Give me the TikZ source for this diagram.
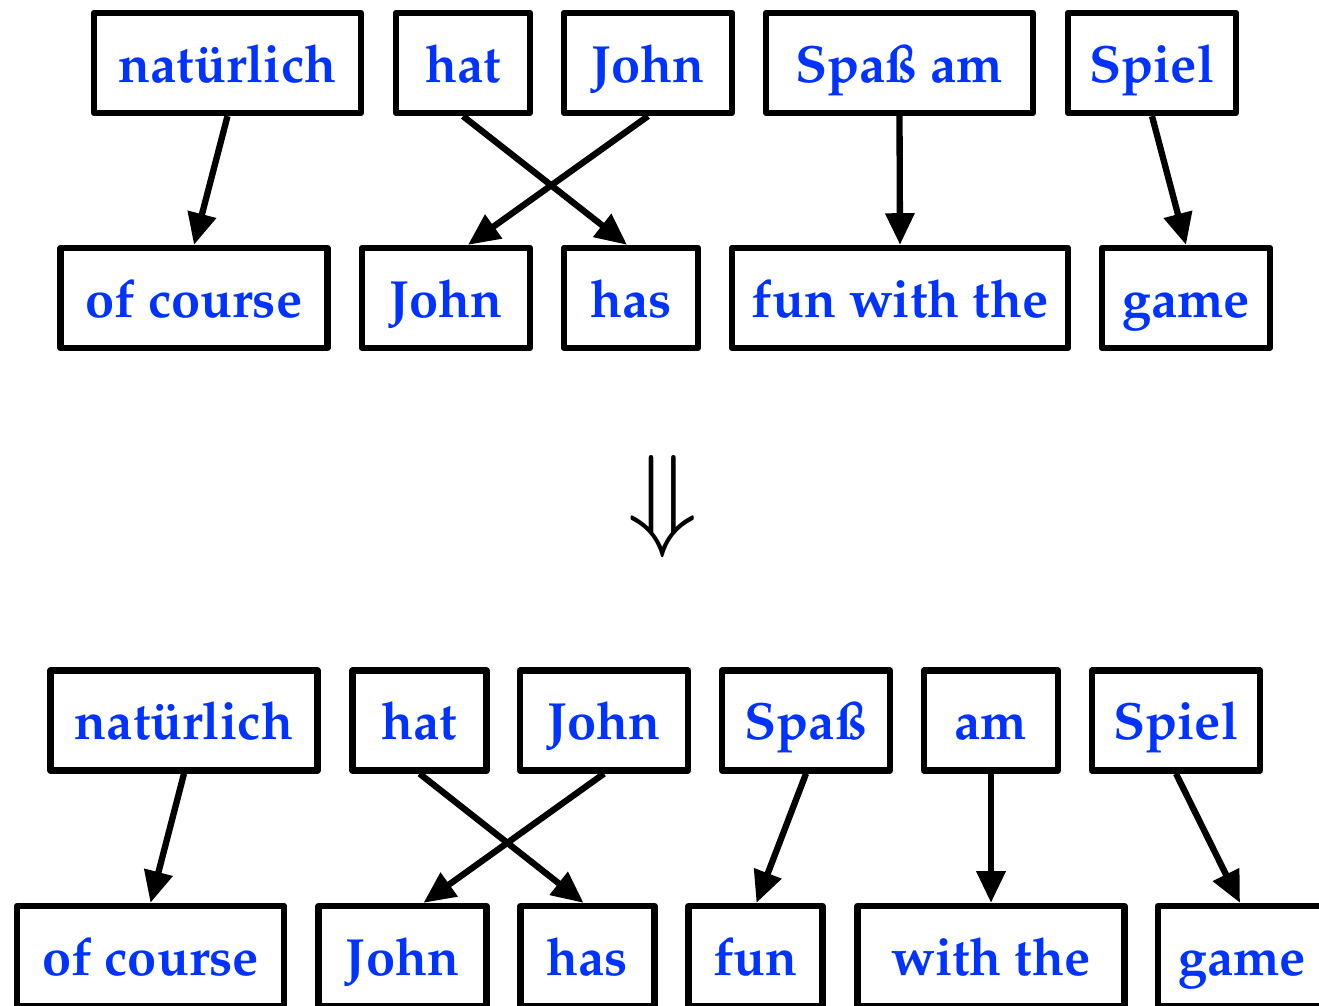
\documentclass[tikz,border=0pt]{standalone}
\usepackage[T1]{fontenc}
\usepackage{mathpazo}
\usetikzlibrary{arrows.meta}
\definecolor{wordblue}{RGB}{0,51,255}
\tikzset{
  word/.style={draw, line width=3.6pt, line join=round, minimum height=2cm,
    text height=22pt, text depth=0pt, inner sep=0pt, text=wordblue,
    font=\fontsize{29.8}{36}\selectfont\bfseries},
  link/.style={line width=3.6pt, -{Triangle[length=18pt,width=16pt]}}
}
\begin{document}
\begin{tikzpicture}[x=0.02cm,y=-0.02cm]
  \useasboundingbox (0,0) rectangle (1319,1006);

  % Phrases, German above English
  \foreach \i/\x/\w/\t in {1/227.5/5.34/{nat\"urlich},2/463/2.68/hat,3/648/3.36/John,4/899.5/5.34/{Spa\ss{} am},5/1152/3.36/Spiel}
    \node[word, minimum width=\w cm] (a\i) at (\x,63) {\t};
  \foreach \i/\x/\w/\t in {1/194/5.34/{of course},2/446/3.36/John,3/631/2.68/has,4/900/6.72/{fun with the},5/1186/3.36/game}
    \node[word, minimum width=\w cm] (b\i) at (\x,298) {\t};

  % Alignment links
  \foreach \s/\t/\dx in {1/1/0,2/3/-4,3/2/22,4/4/0,5/5/0}
    \draw[link] (a\s.south) -- ([xshift=\dx*0.02cm]b\t.north);

  % Refinement
  \node[inner sep=0pt] (turn) at (663,507) {\scalebox{6.3}{$\Downarrow$}};

  % Words, German above English
  \foreach \i/\x/\w/\t in {1/184/5.34/{nat\"urlich},2/419.5/2.68/hat,3/604/3.36/John,4/806/3.36/{Spa\ss},5/991/2.68/am,6/1176/3.36/Spiel}
    \node[word, minimum width=\w cm] (c\i) at (\x,720.5) {\t};
  \foreach \i/\x/\w/\t in {1/150.5/5.34/{of course},2/402.5/3.36/John,3/587.5/2.68/has,4/755.5/2.68/fun,5/991/5.34/{with the},6/1242/3.36/game}
    \node[word, minimum width=\w cm] (d\i) at (\x,956) {\t};

  % Alignment links
  \foreach \s/\t/\dx in {1/1/0,2/3/-4,3/2/21,4/4/1,5/5/0,6/6/-2}
    \draw[link] (c\s.south) -- ([xshift=\dx*0.02cm]d\t.north);
\end{tikzpicture}
\end{document}
